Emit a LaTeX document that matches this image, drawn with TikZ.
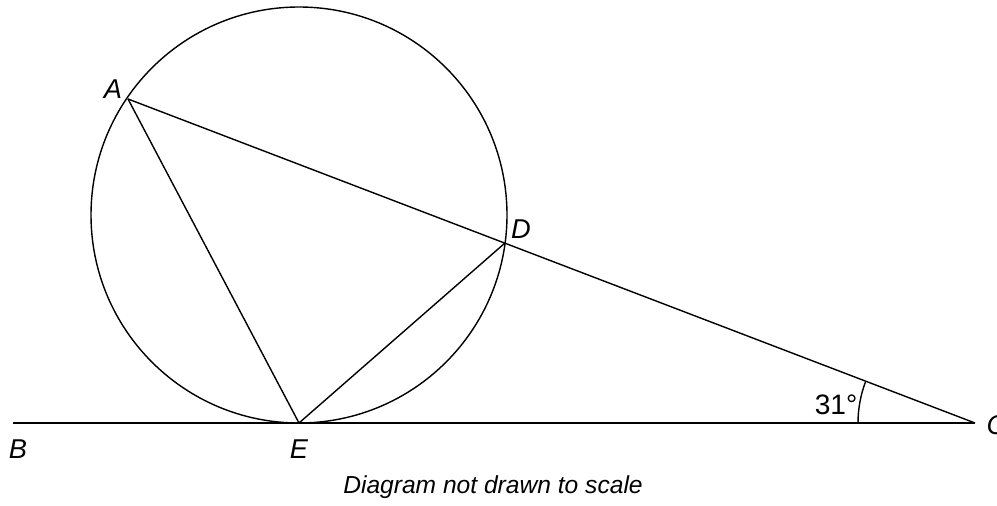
\documentclass[tikz,border=0pt]{standalone}
\usepackage{fontspec}
\setmainfont{Liberation Sans}
\usetikzlibrary{calc}

\begin{document}
\begin{tikzpicture}[x=0.02cm, y=-0.02cm, line width=0.8pt,
    lbl/.style={font=\fontsize{15.5}{18}\selectfont\itshape, inner sep=0pt}]
  \useasboundingbox (0,0) rectangle (997,506);
  % points on the circle and the tangent line
  \coordinate (O) at (299,215);
  \coordinate (A) at (128,99);
  \coordinate (D) at (505,243);
  \coordinate (E) at (299,423);
  \coordinate (B) at (13,423);
  \coordinate (C) at (975,423);
  \draw (O) circle (208);
  \draw (B) -- (C);
  \draw (A) -- (C);
  \draw (A) -- (E) -- (D);
  % angle at C
  \draw (C) ++(180:117) arc (180:201:117);
  \node[lbl] (lA) at (113,89) {A};
  \node[lbl] (lD) at (521,229) {D};
  \node[lbl] (lB) at (18,449) {B};
  \node[lbl] (lE) at (299,449) {E};
  \node[lbl, anchor=west] (lC) at (986,425) {C};
  \node[font=\fontsize{16}{18}\selectfont, inner sep=0pt] (ang) at (836,405) {31°};
  \node[font=\fontsize{14}{16}\selectfont\itshape, inner sep=0pt] (note) at (493,487) {Diagram not drawn to scale};
\end{tikzpicture}
\end{document}
